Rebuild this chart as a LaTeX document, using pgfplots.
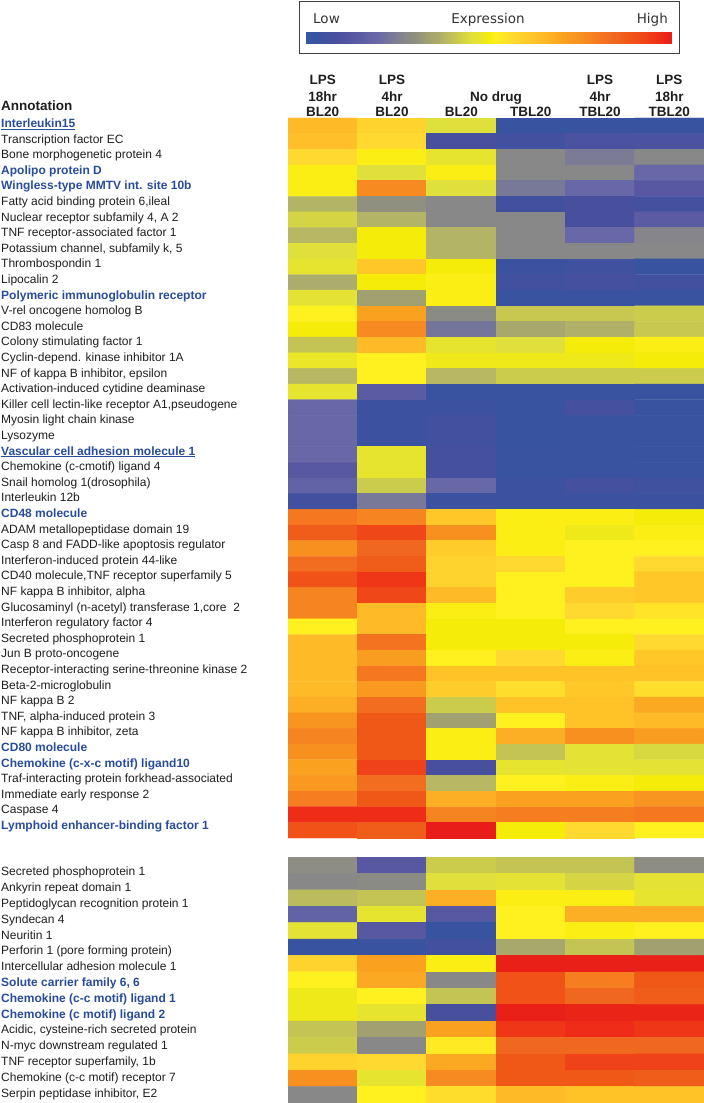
\documentclass[border=0pt]{standalone}
\usepackage{pgfplots}
\pgfplotsset{compat=1.18}
\usepackage{fontspec}
\setmainfont{Liberation Sans}
\newfontfamily\legfont{DejaVu Sans}
\definecolor{hlblue}{RGB}{40,76,156}
\definecolor{txt}{RGB}{30,30,30}
\newcommand\hl[1]{\textcolor{hlblue}{\bfseries #1}}
\newcommand\hlu[1]{\textcolor{hlblue}{\bfseries\underline{#1}}}
\pgfplotsset{colormap={hm}{
 rgb255(0pt)=(53,86,160); rgb255(6pt)=(60,82,160); rgb255(10pt)=(72,80,158);
 rgb255(15pt)=(88,88,162); rgb255(20pt)=(104,104,168); rgb255(25pt)=(120,120,152);
 rgb255(30pt)=(136,136,136); rgb255(33pt)=(144,144,128); rgb255(37pt)=(160,160,112);
 rgb255(40pt)=(172,172,108); rgb255(43pt)=(184,184,100); rgb255(47pt)=(200,200,80);
 rgb255(50pt)=(212,212,68); rgb255(53pt)=(224,224,60); rgb255(56pt)=(235,230,40);
 rgb255(58pt)=(245,236,10); rgb255(60pt)=(255,240,32); rgb255(64pt)=(255,216,48);
 rgb255(67pt)=(255,200,40); rgb255(70pt)=(255,186,40); rgb255(74pt)=(250,162,32);
 rgb255(78pt)=(248,144,32); rgb255(82pt)=(245,120,32); rgb255(85pt)=(240,104,32);
 rgb255(88pt)=(240,88,24); rgb255(92pt)=(240,66,24); rgb255(96pt)=(238,44,24);
 rgb255(100pt)=(232,28,24)}}
\begin{document}
\begin{tikzpicture}
\path[use as bounding box] (0,0) rectangle (704pt,1103pt);
% ---------- top block ----------
\begin{axis}[at={(288pt,265pt)}, anchor=south west, width=416pt, height=720pt,
  scale only axis, xmin=-0.5, xmax=5.5, ymin=0.5, ymax=46.5, y dir=reverse,
  enlargelimits=false, axis line style={draw=none}, xtick=\empty, ytick=\empty,
  colormap name=hm, point meta min=0, point meta max=100]
\addplot[matrix plot*, mesh/cols=6, mesh/rows=46, point meta=explicit] coordinates {
(0,1)[70] (1,1)[65] (2,1)[53] (3,1)[3] (4,1)[3] (5,1)[3]
(0,2)[69] (1,2)[64] (2,2)[10] (3,2)[8] (4,2)[11] (5,2)[11]
(0,3)[64] (1,3)[59] (2,3)[55] (3,3)[30] (4,3)[26] (5,3)[30]
(0,4)[59] (1,4)[53] (2,4)[59] (3,4)[30] (4,4)[30] (5,4)[20]
(0,5)[59] (1,5)[79] (2,5)[53] (3,5)[25] (4,5)[20] (5,5)[15]
(0,6)[42] (1,6)[33] (2,6)[30] (3,6)[8] (4,6)[10] (5,6)[9]
(0,7)[50] (1,7)[42] (2,7)[30] (3,7)[30] (4,7)[10] (5,7)[16]
(0,8)[43] (1,8)[58] (2,8)[42] (3,8)[30] (4,8)[20] (5,8)[29]
(0,9)[53] (1,9)[58] (2,9)[42] (3,9)[30] (4,9)[30] (5,9)[30]
(0,10)[55] (1,10)[67] (2,10)[58] (3,10)[6] (4,10)[7] (5,10)[3]
(0,11)[40] (1,11)[58] (2,11)[59] (3,11)[8] (4,11)[9] (5,11)[8]
(0,12)[54] (1,12)[37] (2,12)[59] (3,12)[4] (4,12)[4] (5,12)[4]
(0,13)[60] (1,13)[74] (2,13)[31] (3,13)[47] (4,13)[47] (5,13)[48]
(0,14)[58] (1,14)[79] (2,14)[24] (3,14)[39] (4,14)[41] (5,14)[47]
(0,15)[46] (1,15)[70] (2,15)[55] (3,15)[53] (4,15)[58] (5,15)[59]
(0,16)[56] (1,16)[60] (2,16)[57] (3,16)[57] (4,16)[57] (5,16)[58]
(0,17)[43] (1,17)[60] (2,17)[43] (3,17)[48] (4,17)[48] (5,17)[48]
(0,18)[55] (1,18)[16] (2,18)[4] (3,18)[4] (4,18)[4] (5,18)[4]
(0,19)[20] (1,19)[6] (2,19)[6] (3,19)[3] (4,19)[9] (5,19)[4]
(0,20)[20] (1,20)[6] (2,20)[8] (3,20)[3] (4,20)[4] (5,20)[4]
(0,21)[20] (1,21)[6] (2,21)[8] (3,21)[3] (4,21)[4] (5,21)[4]
(0,22)[20] (1,22)[55] (2,22)[9] (3,22)[4] (4,22)[4] (5,22)[4]
(0,23)[15] (1,23)[55] (2,23)[9] (3,23)[4] (4,23)[4] (5,23)[4]
(0,24)[18] (1,24)[48] (2,24)[20] (3,24)[6] (4,24)[9] (5,24)[7]
(0,25)[8] (1,25)[25] (2,25)[6] (3,25)[6] (4,25)[6] (5,25)[6]
(0,26)[82] (1,26)[80] (2,26)[67] (3,26)[59] (4,26)[59] (5,26)[58]
(0,27)[87] (1,27)[91] (2,27)[78] (3,27)[59] (4,27)[57] (5,27)[59]
(0,28)[78] (1,28)[85] (2,28)[66] (3,28)[59] (4,28)[60] (5,28)[60]
(0,29)[84] (1,29)[87] (2,29)[65] (3,29)[64] (4,29)[60] (5,29)[64]
(0,30)[89] (1,30)[94] (2,30)[65] (3,30)[60] (4,30)[60] (5,30)[67]
(0,31)[80] (1,31)[91] (2,31)[70] (3,31)[60] (4,31)[66] (5,31)[67]
(0,32)[80] (1,32)[70] (2,32)[59] (3,32)[60] (4,32)[64] (5,32)[62]
(0,33)[60] (1,33)[70] (2,33)[58] (3,33)[58] (4,33)[60] (5,33)[60]
(0,34)[70] (1,34)[83] (2,34)[58] (3,34)[58] (4,34)[58] (5,34)[64]
(0,35)[70] (1,35)[75] (2,35)[60] (3,35)[64] (4,35)[59] (5,35)[67]
(0,36)[70] (1,36)[82] (2,36)[68] (3,36)[68] (4,36)[68] (5,36)[68]
(0,37)[70] (1,37)[76] (2,37)[66] (3,37)[63] (4,37)[67] (5,37)[63]
(0,38)[72] (1,38)[84] (2,38)[48] (3,38)[68] (4,38)[68] (5,38)[73]
(0,39)[77] (1,39)[88] (2,39)[37] (3,39)[60] (4,39)[68] (5,39)[70]
(0,40)[80] (1,40)[88] (2,40)[59] (3,40)[72] (4,40)[78] (5,40)[75]
(0,41)[78] (1,41)[88] (2,41)[59] (3,41)[46] (4,41)[54] (5,41)[51]
(0,42)[74] (1,42)[92] (2,42)[10] (3,42)[55] (4,42)[54] (5,42)[54]
(0,43)[76] (1,43)[84] (2,43)[43] (3,43)[60] (4,43)[59] (5,43)[58]
(0,44)[81] (1,44)[88] (2,44)[72] (3,44)[74] (4,44)[74] (5,44)[77]
(0,45)[96] (1,45)[96] (2,45)[80] (3,45)[81] (4,45)[81] (5,45)[82]
(0,46)[89] (1,46)[87] (2,46)[100] (3,46)[58] (4,46)[64] (5,46)[60]
};
\end{axis}
% ---------- bottom block ----------
\begin{axis}[at={(288pt,0pt)}, anchor=south west, width=416pt, height=246pt,
  scale only axis, xmin=-0.5, xmax=5.5, ymin=0.5, ymax=15.5, y dir=reverse,
  enlargelimits=false, axis line style={draw=none}, xtick=\empty, ytick=\empty,
  colormap name=hm, point meta min=0, point meta max=100]
\addplot[matrix plot*, mesh/cols=6, mesh/rows=15, point meta=explicit] coordinates {
(0,1)[32] (1,1)[15] (2,1)[48] (3,1)[46] (4,1)[46] (5,1)[32]
(0,2)[30] (1,2)[31] (2,2)[53] (3,2)[54] (4,2)[50] (5,2)[54]
(0,3)[44] (1,3)[46] (2,3)[72] (3,3)[59] (4,3)[59] (5,3)[55]
(0,4)[18] (1,4)[55] (2,4)[15] (3,4)[60] (4,4)[72] (5,4)[72]
(0,5)[54] (1,5)[15] (2,5)[3] (3,5)[60] (4,5)[59] (5,5)[60]
(0,6)[3] (1,6)[4] (2,6)[8] (3,6)[39] (4,6)[46] (5,6)[37]
(0,7)[65] (1,7)[74] (2,7)[59] (3,7)[99] (4,7)[99] (5,7)[99]
(0,8)[60] (1,8)[73] (2,8)[30] (3,8)[89] (4,8)[81] (5,8)[88]
(0,9)[57] (1,9)[60] (2,9)[46] (3,9)[89] (4,9)[85] (5,9)[87]
(0,10)[57] (1,10)[55] (2,10)[10] (3,10)[99] (4,10)[98] (5,10)[98]
(0,11)[46] (1,11)[37] (2,11)[74] (3,11)[94] (4,11)[96] (5,11)[94]
(0,12)[48] (1,12)[30] (2,12)[61] (3,12)[85] (4,12)[85] (5,12)[85]
(0,13)[65] (1,13)[64] (2,13)[73] (3,13)[88] (4,13)[92] (5,13)[92]
(0,14)[78] (1,14)[55] (2,14)[79] (3,14)[88] (4,14)[88] (5,14)[87]
(0,15)[30] (1,15)[60] (2,15)[63] (3,15)[70] (4,15)[68] (5,15)[68]
};
\end{axis}
% ---------- legend colour bar (x = position along bar, meta = colour value) ----------
\begin{axis}[at={(306pt,1059pt)}, anchor=south west, width=366pt, height=12pt,
  scale only axis, hide axis, xmin=0, xmax=100, ymin=0, ymax=1, view={0}{90},
  colormap name=hm, point meta min=0, point meta max=100]
\addplot3[surf, shader=interp, mesh/cols=28, point meta=explicit] coordinates {
(0,0,0)[0] (4,0,0)[6] (8,0,0)[10] (13,0,0)[15] (19,0,0)[20] (23,0,0)[25] (27,0,0)[30] (30,0,0)[33] (33,0,0)[37] (36,0,0)[40]
(38,0,0)[43] (41,0,0)[47] (43,0,0)[50] (45,0,0)[53] (48,0,0)[56] (50,0,0)[58] (52,0,0)[60] (57,0,0)[64] (61,0,0)[67] (65,0,0)[70]
(70,0,0)[74] (75,0,0)[78] (80,0,0)[82] (84,0,0)[85] (88,0,0)[88] (93,0,0)[92] (97,0,0)[96] (100,0,0)[100]

(0,1,0)[0] (4,1,0)[6] (8,1,0)[10] (13,1,0)[15] (19,1,0)[20] (23,1,0)[25] (27,1,0)[30] (30,1,0)[33] (33,1,0)[37] (36,1,0)[40]
(38,1,0)[43] (41,1,0)[47] (43,1,0)[50] (45,1,0)[53] (48,1,0)[56] (50,1,0)[58] (52,1,0)[60] (57,1,0)[64] (61,1,0)[67] (65,1,0)[70]
(70,1,0)[74] (75,1,0)[78] (80,1,0)[82] (84,1,0)[85] (88,1,0)[88] (93,1,0)[92] (97,1,0)[96] (100,1,0)[100]
};
\end{axis}
% ---------- legend box ----------
\draw[line width=1pt, black!75] (299pt,1049pt) rectangle (679pt,1101pt);
\begin{scope}[every node/.style={inner sep=0pt, font=\legfont\fontsize{13.5}{16}\selectfont, text=black!80}]
\node[anchor=base west] at (313pt,1079.7pt) {Low};
\node[anchor=base] at (488pt,1079.7pt) {Expression};
\node[anchor=base east] at (668pt,1079.7pt) {High};
\end{scope}
% ---------- headers ----------
\begin{scope}[every node/.style={inner sep=0pt, anchor=base, font=\bfseries\fontsize{13.5}{16}\selectfont, text=txt}]
\foreach \x/\a/\b/\c in {322.7/LPS/18hr/BL20, 392/LPS/4hr/BL20, 600/LPS/4hr/TBL20, 669.3/LPS/18hr/TBL20}{
  \node at (\x pt,1018.3pt) {\a};
  \node at (\x pt,1001.7pt) {\b};
  \node at (\x pt,986.2pt) {\c};
}
\node at (496pt,1001.7pt) {No drug};
\node at (461.3pt,986.2pt) {BL20};
\node at (530.7pt,986.2pt) {TBL20};
\node[anchor=base west] at (1pt,992.3pt) {Annotation};
\end{scope}
% ---------- row labels ----------
\begin{scope}[every node/.style={inner sep=0pt, anchor=base west, font=\fontsize{12}{14}\selectfont, text=txt}]
\foreach \lab [count=\i] in {{\hlu{Interleukin15}},{Transcription factor EC},{Bone morphogenetic protein 4},{\hl{Apolipo protein D}},{\hl{Wingless-type MMTV int. site 10b}},{Fatty acid binding protein 6,ileal},{Nuclear receptor subfamily 4, A 2},{TNF receptor-associated factor 1},{Potassium channel, subfamily k, 5},{Thrombospondin 1},{Lipocalin 2},{\hl{Polymeric immunoglobulin receptor}},{V-rel oncogene homolog B},{CD83 molecule},{Colony stimulating factor 1},{Cyclin-depend. kinase inhibitor 1A},{NF of kappa B inhibitor, epsilon},{Activation-induced cytidine deaminase},{Killer cell lectin-like receptor A1,pseudogene},{Myosin light chain kinase},{Lysozyme},{\hlu{Vascular cell adhesion molecule 1}},{Chemokine (c-cmotif) ligand 4},{Snail homolog 1(drosophila)},{Interleukin 12b},{\hl{CD48 molecule}},{ADAM metallopeptidase domain 19},{Casp 8 and FADD-like apoptosis regulator},{Interferon-induced protein 44-like},{CD40 molecule,TNF receptor superfamily 5},{NF kappa B inhibitor, alpha},{Glucosaminyl (n-acetyl) transferase 1,core~~2},{Interferon regulatory factor 4},{Secreted phosphoprotein 1},{Jun B proto-oncogene},{Receptor-interacting serine-threonine kinase 2},{Beta-2-microglobulin},{NF kappa B 2},{TNF, alpha-induced protein 3},{NF kappa B inhibitor, zeta},{\hl{CD80 molecule}},{\hl{Chemokine (c-x-c motif) ligand10}},{Traf-interacting protein forkhead-associated},{Immediate early response 2},{Caspase 4},{\hl{Lymphoid enhancer-binding factor 1}}}{
  \node at (1pt,{975.5pt-(\i-1)*15.6pt}) {\lab};
}
\foreach \lab [count=\i] in {{Secreted phosphoprotein 1},{Ankyrin repeat domain 1},{Peptidoglycan recognition protein 1},{Syndecan 4},{Neuritin 1},{Perforin 1 (pore forming protein)},{Intercellular adhesion molecule 1},{\hl{Solute carrier family 6, 6}},{\hl{Chemokine (c-c motif) ligand 1}},{\hl{Chemokine (c motif) ligand 2}},{Acidic, cysteine-rich secreted protein},{N-myc downstream regulated 1},{TNF receptor superfamily, 1b},{Chemokine (c-c motif) receptor 7},{Serpin peptidase inhibitor, E2}}{
  \node at (1pt,{227.3pt-(\i-1)*15.83pt}) {\lab};
}
\end{scope}
\end{tikzpicture}
\end{document}
